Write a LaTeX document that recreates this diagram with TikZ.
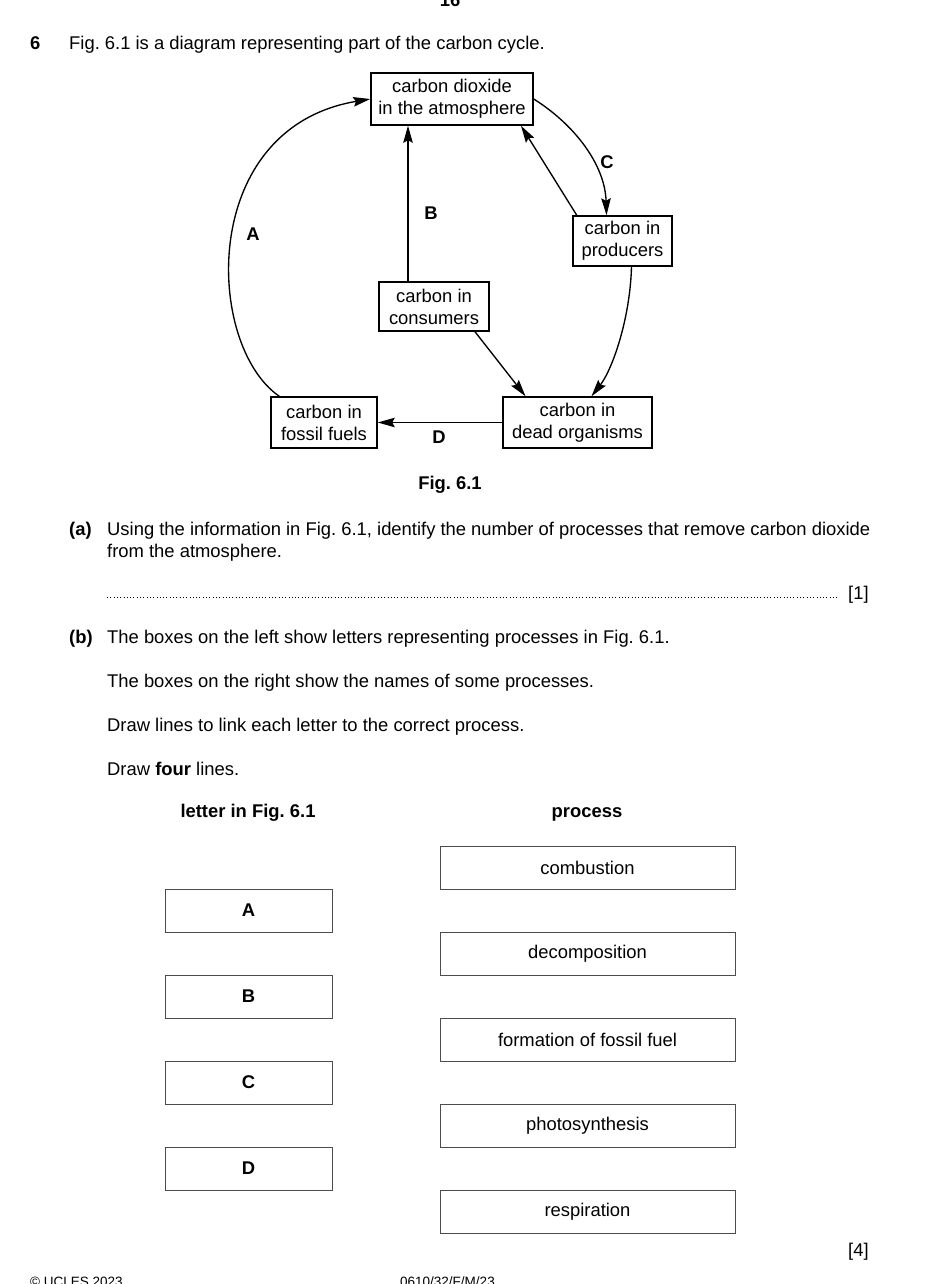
\documentclass[tikz,border=0pt]{standalone}
\usepackage{fontspec}
\setmainfont{Liberation Sans}
\usetikzlibrary{arrows.meta}
\frenchspacing
\begin{document}
\begin{tikzpicture}[x=1pt,y=-1pt,
  every node/.style={font=\fontsize{18.4}{22}\selectfont},
  txt/.style={anchor=base west, inner sep=0pt},
  btxt/.style={anchor=base west, inner sep=0pt, font=\fontsize{18.4}{22}\selectfont\bfseries},
  lbl/.style={inner sep=0pt, font=\fontsize{18.4}{22}\selectfont\bfseries},
  dbox/.style={draw, line width=1.5pt, align=center, inner sep=0pt},
  pbox/.style={draw=black!70, line width=1pt, inner sep=0pt, minimum height=43pt},
  lbox/.style={pbox, minimum width=167pt, font=\fontsize{18.4}{22}\selectfont\bfseries},
  rbox/.style={pbox, minimum width=295pt},
  arr/.style={-{Stealth[length=17pt,width=9.5pt,inset=2.5pt]}, line width=1.35pt},
  foot/.style={anchor=base west, inner sep=0pt, font=\fontsize{13.5}{16}\selectfont}
]
\fill[white] (0,0) rectangle (944,1284);
\useasboundingbox (0,0) rectangle (944,1284);

% header
\node[lbl, anchor=base] (pg) at (450,7) {16};
\node[btxt] (q6) at (30,50) {6};
\node[txt] (intro) at (69,50) {Fig. 6.1 is a diagram representing part of the carbon cycle.};

% diagram boxes
\node[dbox, minimum width=162pt, minimum height=52pt] (co2) at (452,99) {carbon dioxide\\in the atmosphere};
\node[dbox, minimum width=99pt, minimum height=50pt] (prod) at (622.5,241) {carbon in\\producers};
\node[dbox, minimum width=110pt, minimum height=49pt] (cons) at (434,306.5) {carbon in\\consumers};
\node[dbox, minimum width=106pt, minimum height=51pt] (fossil) at (324,422.5) {carbon in\\fossil fuels};
\node[dbox, minimum width=149pt, minimum height=51pt] (dead) at (577.5,422.5) {carbon in\\dead organisms};

% connectors
\draw[arr] ([xshift=9pt]fossil.north west) .. controls (205,345) and (198,128) .. (co2.west);
\draw[arr] ([xshift=-26pt]cons.north) -- ([xshift=-44pt]co2.south);
\draw[arr] ([xshift=4.5pt]prod.north west) -- ([xshift=69pt]co2.south);
\draw[arr] (co2.east) .. controls (575,125) and (605,165) .. ([xshift=-16pt]prod.north);
\draw[arr] ([xshift=41pt]cons.south) -- ([xshift=-52pt]dead.north);
\draw[arr] ([xshift=9pt]prod.south) .. controls (630,320) and (612,370) .. ([xshift=14pt]dead.north);
\draw[arr] (dead.west) -- (fossil.east);

% letters
\node[lbl] (la) at (253,234) {A};
\node[lbl] (lb) at (431,213) {B};
\node[lbl] (lc) at (607,162) {C};
\node[lbl] (ld) at (439,437) {D};
\node[lbl] (fig) at (450,485) {Fig. 6.1};

% part (a)
\node[btxt] (pa) at (69,535) {(a)};
\node[txt] (pa1) at (107,535) {Using the information in Fig. 6.1, identify the number of processes that remove carbon dioxide};
\node[txt] (pa2) at (107,557) {from the atmosphere.};
\coordinate (dotL) at (107,597);
\coordinate (dotR) at (838,597);
\draw[line width=1pt, dash pattern=on 1pt off 2.3pt] (dotL) -- (dotR);
\node[txt] (m1) at (848,599) {[1]};

% part (b)
\node[btxt] (pb) at (69,643) {(b)};
\node[txt] (pb1) at (107,643) {The boxes on the left show letters representing processes in Fig. 6.1.};
\node[txt] (pb2) at (107,687) {The boxes on the right show the names of some processes.};
\node[txt] (pb3) at (107,731) {Draw lines to link each letter to the correct process.};
\node[txt] (pb4) at (107,775) {Draw \textbf{four} lines.};

\node[lbl, anchor=base] (h1) at (248,817) {letter in Fig. 6.1};
\node[lbl, anchor=base] (h2) at (587,817) {process};

\node[lbox] (bA) at (248.5,910.5) {A};
\node[lbox] (bB) at (248.5,996.5) {B};
\node[lbox] (bC) at (248.5,1082.5) {C};
\node[lbox] (bD) at (248.5,1168.5) {D};

\node[rbox] (p1) at (587.5,867.5) {combustion};
\node[rbox] (p2) at (587.5,953.5) {decomposition};
\node[rbox] (p3) at (587.5,1039.5) {formation of fossil fuel};
\node[rbox] (p4) at (587.5,1125.5) {photosynthesis};
\node[rbox] (p5) at (587.5,1211.5) {respiration};

\node[txt] (m4) at (848,1256) {[4]};

% footer
\node[foot] (f1) at (30,1286) {© UCLES 2023};
\node[foot] (f2) at (400,1286) {0610/32/F/M/23};
\end{tikzpicture}
\end{document}
